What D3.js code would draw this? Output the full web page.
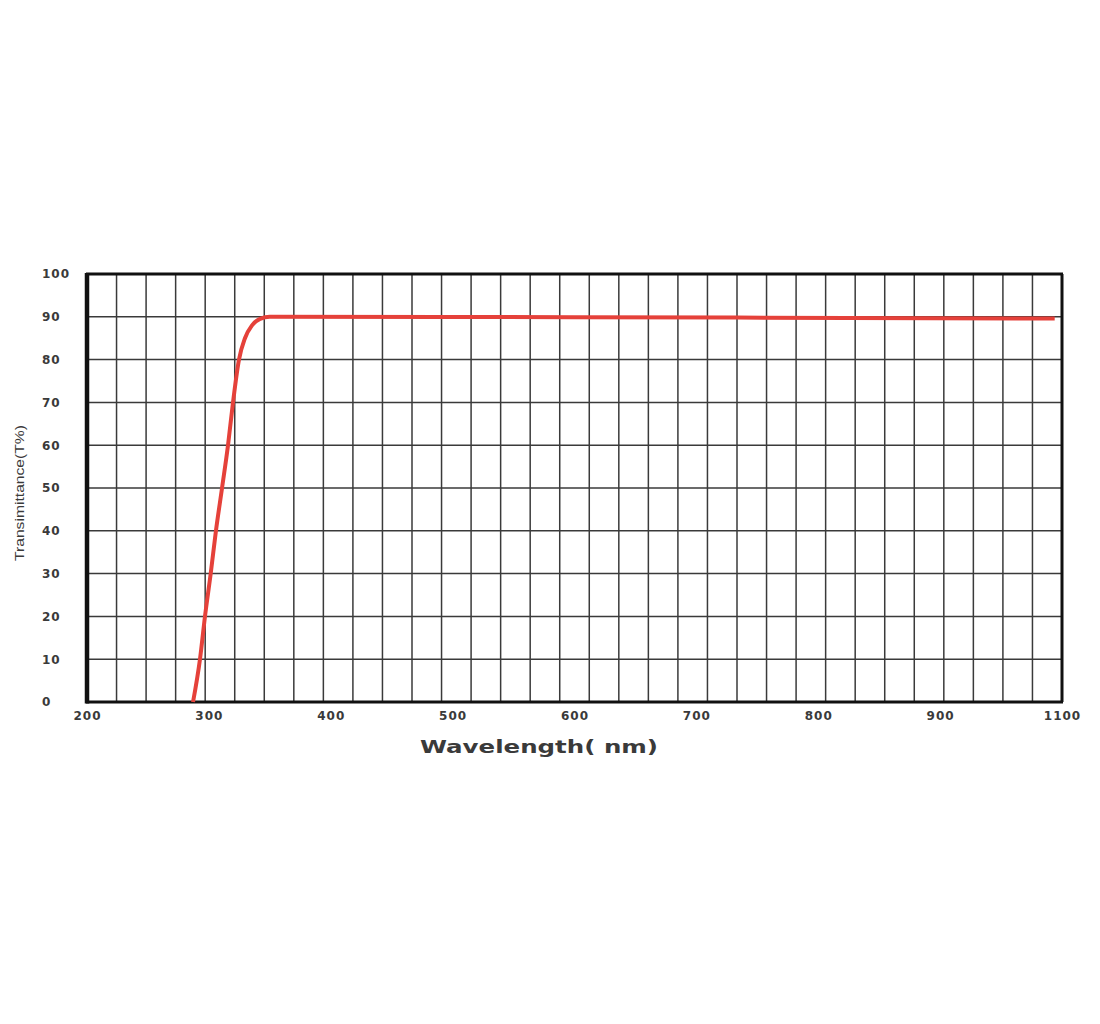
<!DOCTYPE html>
<html>
<head>
<meta charset="utf-8">
<script src="https://cdn.jsdelivr.net/npm/d3@7"></script>
<style>
  html, body { margin: 0; padding: 0; background: #fff; }
  svg { display: block; }
</style>
</head>
<body>
<svg id="chart" width="1100" height="1024"></svg>
<script>
// ---- data ----
const wavelength = [287, 292.7, 296.8, 301.5, 305.8, 310.8, 315.7, 319.8, 324.7, 329.6, 335.4, 342, 350, 600, 994];
const transmittance = [0, 10, 20, 30, 40, 50, 60, 70, 80, 85, 88, 89.5, 90, 89.9, 89.6];
const xTickValues = [200, 300, 400, 500, 600, 700, 800, 900, 1000];
const xTickLabels = ["200", "300", "400", "500", "600", "700", "800", "900", "1100"];
const yTickValues = [0, 10, 20, 30, 40, 50, 60, 70, 80, 90, 100];
const verticalGridCount = 33;
const xTitle = "Wavelength( nm)";
const yTitle = "Transimittance(T%)";

// ---- layout ----
const pLeft = 87, pRight = 1062, pTop = 274, pBottom = 702;
const svg = d3.select("#chart");
svg.append("rect").attr("width", 1100).attr("height", 1024).attr("fill", "#fff");

const x = d3.scaleLinear().domain([200, 1000]).range([pLeft, pRight]);
const y = d3.scaleLinear().domain([0, 100]).range([pBottom, pTop]);
const gx = d3.scaleLinear().domain([0, verticalGridCount]).range([pLeft, pRight]);

// grid
const grid = svg.append("g");
grid.selectAll("line.v").data(d3.range(1, verticalGridCount)).join("line")
  .attr("class", "v")
  .attr("x1", d => gx(d)).attr("x2", d => gx(d))
  .attr("y1", pTop).attr("y2", pBottom)
  .attr("stroke", "#3a3a3a").attr("stroke-width", 1.5);
grid.selectAll("line.h").data(yTickValues.slice(1, -1)).join("line")
  .attr("class", "h")
  .attr("x1", pLeft).attr("x2", pRight)
  .attr("y1", d => y(d)).attr("y2", d => y(d))
  .attr("stroke", "#3a3a3a").attr("stroke-width", 1.5);

// frame
svg.append("line").attr("x1", pLeft - 1).attr("x2", pRight + 1).attr("y1", pTop).attr("y2", pTop)
  .attr("stroke", "#111").attr("stroke-width", 3);
svg.append("line").attr("x1", pRight).attr("x2", pRight).attr("y1", pTop).attr("y2", pBottom)
  .attr("stroke", "#111").attr("stroke-width", 3);
svg.append("line").attr("x1", pLeft - 1).attr("x2", pRight + 1).attr("y1", pBottom).attr("y2", pBottom)
  .attr("stroke", "#111").attr("stroke-width", 3);
svg.append("line").attr("x1", pLeft).attr("x2", pLeft).attr("y1", pTop - 1).attr("y2", pBottom + 1.5)
  .attr("stroke", "#111").attr("stroke-width", 4.5);

// curve
const pts = wavelength.map((w, i) => [w, transmittance[i]]);
const line = d3.line().x(d => x(d[0])).y(d => y(d[1])).curve(d3.curveMonotoneX);
svg.append("path").datum(pts).attr("d", line)
  .attr("fill", "none").attr("stroke", "#e5413a").attr("stroke-width", 4)
  .attr("stroke-linejoin", "round").attr("stroke-linecap", "butt");

// axes (labels only)
const xAxis = d3.axisBottom(x).tickValues(xTickValues)
  .tickFormat((d, i) => xTickLabels[i]).tickSize(0).tickPadding(9);
const xg = svg.append("g").attr("transform", `translate(0,${pBottom})`).call(xAxis);
xg.select(".domain").remove();
xg.selectAll("text")
  .attr("font-family", "DejaVu Sans").attr("font-weight", "bold").attr("font-size", 12)
  .attr("letter-spacing", 1).attr("fill", "#3a3a3a");

const yAxis = d3.axisLeft(y).tickValues(yTickValues).tickSize(0).tickPadding(0);
const yg = svg.append("g").attr("transform", `translate(42,0)`).call(yAxis);
yg.select(".domain").remove();
yg.selectAll("text")
  .attr("text-anchor", "start")
  .attr("font-family", "DejaVu Sans").attr("font-weight", "bold").attr("font-size", 12)
  .attr("letter-spacing", 1).attr("fill", "#3a3a3a");

// titles
svg.append("text").attr("x", 539).attr("y", 753)
  .attr("text-anchor", "middle")
  .attr("font-family", "DejaVu Sans").attr("font-weight", "bold").attr("font-size", 17)
  .attr("textLength", 238).attr("lengthAdjust", "spacingAndGlyphs")
  .attr("fill", "#3a3a3a").text(xTitle);

svg.append("text")
  .attr("transform", "translate(24,493) rotate(-90)")
  .attr("text-anchor", "middle")
  .attr("font-family", "Liberation Sans Narrow, Liberation Sans, sans-serif").attr("font-size", 13)
  .attr("textLength", 136).attr("lengthAdjust", "spacingAndGlyphs")
  .attr("fill", "#3a3a3a").text(yTitle);
</script>
</body>
</html>
